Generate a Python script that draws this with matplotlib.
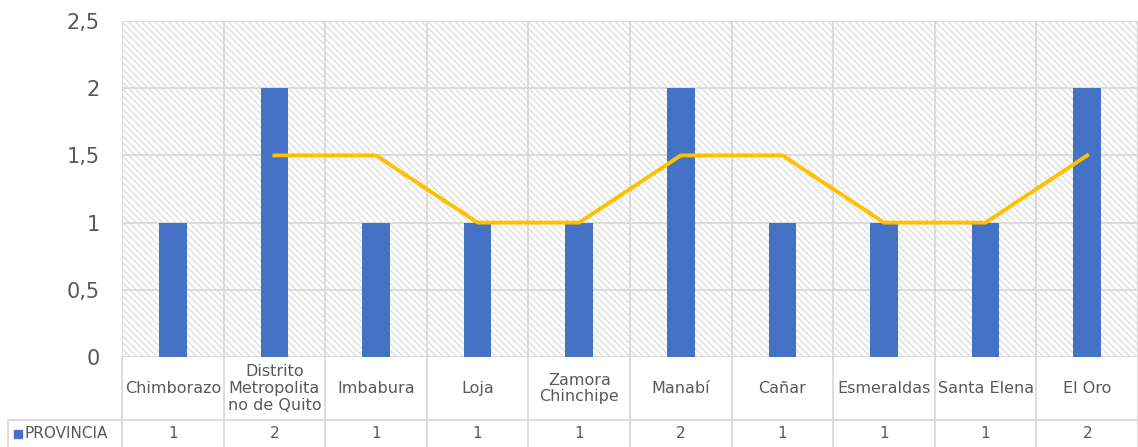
import matplotlib.pyplot as plt
import matplotlib.transforms as mtransforms
import numpy as np

plt.rcParams['font.family'] = ['DejaVu Sans']
plt.rcParams['hatch.linewidth'] = 1.0

provincias = ['Chimborazo', 'Distrito\nMetropolita\nno de Quito', 'Imbabura', 'Loja',
              'Zamora\nChinchipe', 'Manabí', 'Cañar', 'Esmeraldas', 'Santa Elena', 'El Oro']
valores = [1, 2, 1, 1, 1, 2, 1, 1, 1, 2]
tabla_txt = ['1', '2', '1', '1', '1', '2', '1', '1', '1', '2']
# media movil de 2 periodos (linea amarilla)
media_movil = [np.nan, 1.5, 1.5, 1, 1, 1.5, 1.5, 1, 1, 1.5]

grid_col = '#d9d9d9'
text_col = '#595959'

fig = plt.figure(figsize=(11.38, 4.47), dpi=100)
ax = fig.add_axes([122 / 1138, 1 - 357 / 447, 1 - 122 / 1138, (357 - 21) / 447])

n = len(provincias)
x = np.arange(n)

ax.patch.set_facecolor('white')
ax.patch.set_hatch('\\\\\\\\\\')
ax.patch.set_edgecolor('#dedede')

ax.set_xlim(-0.5, n - 0.5)
ax.set_ylim(0, 2.5)
ax.set_yticks([0, 0.5, 1, 1.5, 2, 2.5])
ax.set_yticklabels(['0', '0,5', '1', '1,5', '2', '2,5'], fontsize=15, color=text_col)
ax.tick_params(axis='y', length=0, pad=16)
ax.set_xticks([])

for yv in [0.5, 1, 1.5, 2, 2.5]:
    ax.axhline(yv, color=grid_col, lw=1.3, zorder=1)
for xb in np.arange(-0.5, n, 1.0):
    ax.axvline(xb, color=grid_col, lw=1.3, zorder=1)
ax.axhline(0, color=grid_col, lw=1.3, zorder=1)

for s in ax.spines.values():
    s.set_visible(False)

ax.bar(x, valores, width=0.27, color='#4472c4', zorder=3)
ax.plot(x, media_movil, color='#ffc000', lw=2.8, zorder=4)

# tabla de datos bajo el eje
trans = mtransforms.blended_transform_factory(ax.transData, fig.transFigure)
y_top = 1 - 357 / 447
y_mid = 1 - 420 / 447
y_bot = 0.0
for xb in np.arange(-0.5, n, 1.0):
    ax.plot([xb, xb], [y_top, y_bot], transform=trans, color=grid_col, lw=1.3,
            clip_on=False)
ax.plot([-0.5, n - 0.5], [y_mid, y_mid], transform=trans, color=grid_col, lw=1.3,
        clip_on=False)
fig.add_artist(plt.Line2D([8 / 1138, 122 / 1138], [y_mid, y_mid], color=grid_col, lw=1.3))
fig.add_artist(plt.Line2D([8 / 1138, 8 / 1138], [y_mid, 0], color=grid_col, lw=1.3))

for i in range(n):
    ax.text(x[i], (y_top + y_mid) / 2, provincias[i], transform=trans, ha='center',
            va='center', fontsize=11.5, color=text_col, linespacing=1.15)
    ax.text(x[i], y_mid / 2, tabla_txt[i], transform=trans, ha='center', va='center',
            fontsize=11, color=text_col)

fig.add_artist(plt.Rectangle((14 / 1138, y_mid / 2 - 4 / 447), 8 / 1138, 8 / 447,
                             color='#4472c4'))
fig.text(25 / 1138, y_mid / 2, 'PROVINCIA', ha='left', va='center', fontsize=11,
         color=text_col)

fig.savefig('out.png', dpi=100)
